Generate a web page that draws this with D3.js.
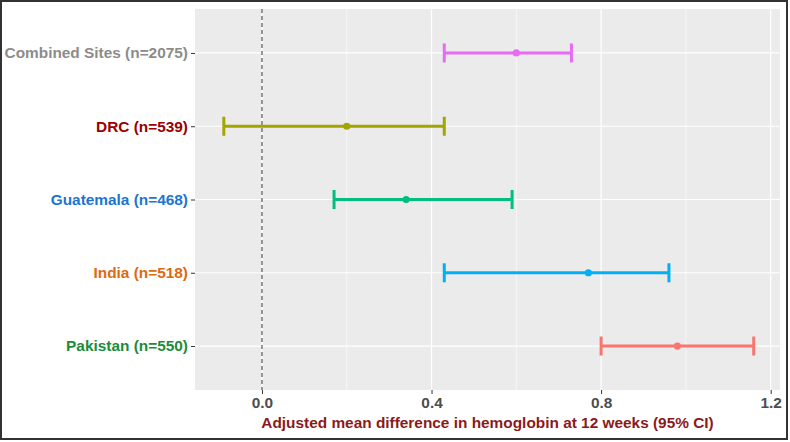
<!DOCTYPE html>
<html>
<head>
  <script src="https://d3js.org/d3.v7.min.js"></script>
  <style>
    body, html { margin: 0; padding: 0; background: #fff; }
    text { font-family: "Liberation Sans", Arial, sans-serif; font-weight: bold; }
  </style>
</head>
<body>
  <div id="chart"></div>
  <script>
    // Data (top to bottom)
    const sites = ["Combined Sites (n=2075)", "DRC (n=539)", "Guatemala (n=468)", "India (n=518)", "Pakistan (n=550)"];
    const estimate = [0.60, 0.20, 0.34, 0.77, 0.98];
    const lower = [0.43, -0.09, 0.17, 0.43, 0.80];
    const upper = [0.73, 0.43, 0.59, 0.96, 1.16];
    const barColors = ["#E76BF3", "#A3A500", "#00BF7D", "#00B0F6", "#F8766D"];
    const labelColors = ["#8C8C8C", "#990000", "#1C75D1", "#DE6A10", "#1C8C3A"];
    const xTicks = [0.0, 0.4, 0.8, 1.2];
    const xMinor = [0.2, 0.6, 1.0];

    const width = 790, height = 442;
    const panel = { left: 195, top: 9, right: 780, bottom: 390 };
    const fontSize = "15.4px";

    const svg = d3.select("#chart").append("svg")
      .attr("width", width)
      .attr("height", height);

    svg.append("rect")
      .attr("x", 1).attr("y", 1)
      .attr("width", 786).attr("height", 438)
      .attr("fill", "#fff")
      .attr("stroke", "#333")
      .attr("stroke-width", 2);

    const x = d3.scaleLinear()
      .domain([-0.158, 1.222])
      .range([panel.left, panel.right]);

    const y = d3.scalePoint()
      .domain(sites)
      .range([panel.top, panel.bottom])
      .padding(0.6);

    // Panel background
    svg.append("rect")
      .attr("x", panel.left).attr("y", panel.top)
      .attr("width", panel.right - panel.left)
      .attr("height", panel.bottom - panel.top)
      .attr("fill", "#EBEBEB");

    // Grid lines
    svg.append("g").selectAll("line")
      .data(xMinor)
      .join("line")
      .attr("x1", d => x(d)).attr("x2", d => x(d))
      .attr("y1", panel.top).attr("y2", panel.bottom)
      .attr("stroke", "#fff").attr("stroke-width", 0.6);

    svg.append("g").selectAll("line")
      .data(xTicks)
      .join("line")
      .attr("x1", d => x(d)).attr("x2", d => x(d))
      .attr("y1", panel.top).attr("y2", panel.bottom)
      .attr("stroke", "#fff").attr("stroke-width", 1.2);

    svg.append("g").selectAll("line")
      .data(sites)
      .join("line")
      .attr("x1", panel.left).attr("x2", panel.right)
      .attr("y1", d => y(d)).attr("y2", d => y(d))
      .attr("stroke", "#fff").attr("stroke-width", 1.2);

    // Reference line at zero
    svg.append("line")
      .attr("x1", x(0)).attr("x2", x(0))
      .attr("y1", panel.top).attr("y2", panel.bottom)
      .attr("stroke", "#000")
      .attr("stroke-width", 0.8)
      .attr("stroke-dasharray", "4,3");

    // Error bars
    const bars = svg.append("g").selectAll("g")
      .data(sites)
      .join("g")
      .attr("stroke", (d, i) => barColors[i])
      .attr("fill", (d, i) => barColors[i])
      .attr("stroke-width", 3);

    bars.append("line")
      .attr("x1", (d, i) => x(lower[i])).attr("x2", (d, i) => x(upper[i]))
      .attr("y1", d => y(d)).attr("y2", d => y(d));

    bars.append("line")
      .attr("x1", (d, i) => x(lower[i])).attr("x2", (d, i) => x(lower[i]))
      .attr("y1", d => y(d) - 9.5).attr("y2", d => y(d) + 9.5);

    bars.append("line")
      .attr("x1", (d, i) => x(upper[i])).attr("x2", (d, i) => x(upper[i]))
      .attr("y1", d => y(d) - 9.5).attr("y2", d => y(d) + 9.5);

    bars.append("circle")
      .attr("cx", (d, i) => x(estimate[i]))
      .attr("cy", d => y(d))
      .attr("r", 3.6)
      .attr("stroke", "none");

    // X axis
    const xAxis = svg.append("g")
      .attr("transform", `translate(0,${panel.bottom})`)
      .call(d3.axisBottom(x).tickValues(xTicks).tickFormat(d3.format(".1f")).tickSize(4).tickPadding(3));
    xAxis.select(".domain").remove();
    xAxis.selectAll(".tick line").attr("stroke", "#333");
    xAxis.selectAll(".tick text")
      .attr("fill", "#4D4D4D")
      .style("font-size", fontSize)
      .style("font-family", "'Liberation Sans', Arial, sans-serif")
      .style("font-weight", "bold");

    // Y axis
    const yAxis = svg.append("g")
      .attr("transform", `translate(${panel.left},0)`)
      .call(d3.axisLeft(y).tickSize(4).tickPadding(3));
    yAxis.select(".domain").remove();
    yAxis.selectAll(".tick line").attr("stroke", "#333");
    yAxis.selectAll(".tick text")
      .attr("fill", (d, i) => labelColors[i])
      .style("font-size", fontSize)
      .style("font-family", "'Liberation Sans', Arial, sans-serif")
      .style("font-weight", "bold");

    // Axis title
    svg.append("text")
      .attr("x", (panel.left + panel.right) / 2 - 0)
      .attr("y", 428)
      .attr("text-anchor", "middle")
      .attr("fill", "#8B1A1A")
      .style("font-size", fontSize)
      .text("Adjusted mean difference in hemoglobin at 12 weeks (95% CI)");
  </script>
</body>
</html>
